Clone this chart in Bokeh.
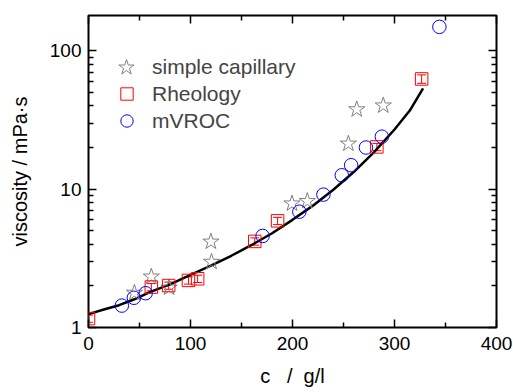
from bokeh.plotting import figure
from bokeh.models import (LinearAxis, LogAxis, Range1d, FixedTicker, Legend, LegendItem,
                          Whisker, ColumnDataSource, NumeralTickFormatter)
from bokeh.embed import file_html
from bokeh.resources import INLINE

# --- data ---
cap_c = [45, 61.6, 79, 120, 120.6, 199.5, 214.5, 254.8, 263, 289]
cap_eta = [1.78, 2.33, 1.94, 4.17, 2.98, 7.87, 8.2, 21.3, 37.7, 40.2]

rheo_c = [0, 61.6, 78.6, 98, 107, 163, 185.4, 282.7, 326.6]
rheo_eta = [1.16, 1.96, 2.01, 2.19, 2.25, 4.19, 5.9, 20.2, 62.6]
rheo_relerr = [0.06, 0.06, 0.06, 0.06, 0.06, 0.06, 0.06, 0.06, 0.07]

vroc_c = [32.7, 44.5, 56, 170.7, 206.7, 230.3, 248.3, 257.5, 272, 287.6, 344]
vroc_eta = [1.44, 1.64, 1.77, 4.59, 6.87, 9.13, 12.6, 14.9, 20.0, 23.96, 149]

fit_c = [0, 15, 30, 45, 60, 80, 100, 120, 140, 160, 180, 200, 220, 240, 260, 280, 300, 315, 328]
fit_eta = [1.25, 1.35, 1.45, 1.6, 1.8, 2.05, 2.4, 2.8, 3.3, 3.95, 4.8, 6.0, 7.6, 9.9, 13.3, 18.5, 27, 37, 53.5]

x_ticks = [0, 100, 200, 300, 400]
x_minor = [50, 150, 250, 350]
y_ticks = [1, 10, 100]
y_minor = [2, 3, 4, 5, 6, 7, 8, 9, 20, 30, 40, 50, 60, 70, 80, 90, 200]

FONT = "Liberation Sans"

p = figure(width=513, height=392, output_backend="svg", toolbar_location=None,
           y_axis_type="log", x_range=Range1d(0, 400), y_range=Range1d(1, 180),
           min_border_left=88, min_border_right=17, min_border_top=15, min_border_bottom=65)
p.grid.visible = False
p.outline_line_color = "black"
p.outline_line_width = 2
p.background_fill_color = "white"

# fit curve
p.line(fit_c, fit_eta, line_color="black", line_width=2.5)

# rheology error bars
rsrc = ColumnDataSource(dict(x=rheo_c, y=rheo_eta,
                             lo=[v * (1 - e) for v, e in zip(rheo_eta, rheo_relerr)],
                             hi=[v * (1 + e) for v, e in zip(rheo_eta, rheo_relerr)]))
w = Whisker(source=rsrc, base="x", lower="lo", upper="hi", dimension="height",
            line_color="red", line_width=1)
w.upper_head.line_color = "red"
w.lower_head.line_color = "red"
w.upper_head.size = 9
w.lower_head.size = 9
p.add_layout(w)

r_cap = p.scatter(cap_c, cap_eta, marker="star", size=17, fill_color=None,
                  line_color="#808080", line_width=1)
r_rheo = p.scatter("x", "y", source=rsrc, marker="square", size=12.5, fill_color=None,
                   line_color="red", line_width=1)
r_vroc = p.scatter(vroc_c, vroc_eta, marker="circle", size=13.5, fill_color=None,
                   line_color="blue", line_width=1)

def make_legend(label, rend, g, loc, standoff):
    lg = Legend(items=[LegendItem(label=label, renderers=[rend])],
                location=loc, margin=0, padding=0, spacing=0,
                glyph_width=g, glyph_height=g, label_standoff=standoff,
                label_text_font=FONT, label_text_font_size="21px",
                border_line_color=None, background_fill_alpha=0)
    p.add_layout(lg, "center")

make_legend("simple capillary", r_cap, 40, (18, 240), 6)
make_legend("Rheology", r_rheo, 31, (23, 218), 10)
make_legend("mVROC", r_vroc, 31, (23, 191), 10)

def style(ax, labels=True):
    ax.axis_line_color = None
    ax.major_tick_in = 8
    ax.major_tick_out = 0
    ax.minor_tick_in = 5
    ax.minor_tick_out = 0
    ax.major_tick_line_width = 1.5
    ax.minor_tick_line_width = 1.5
    ax.major_tick_line_color = "black"
    ax.minor_tick_line_color = "black"
    ax.major_label_text_font = FONT
    ax.major_label_text_font_size = "19px" if labels else "0px"
    ax.major_label_text_color = "black" if labels else None
    ax.axis_label_text_font = FONT
    ax.axis_label_text_font_size = "20px"
    ax.axis_label_text_font_style = "normal"
    ax.axis_label_text_color = "black"
    ax.formatter = NumeralTickFormatter(format="0")

xa = p.xaxis[0]
style(xa)
xa.ticker = FixedTicker(ticks=x_ticks, minor_ticks=x_minor)
xa.axis_label = "c\u00a0\u00a0\u00a0/\u00a0\u00a0g/l"
xa.major_label_standoff = 9
xa.axis_label_standoff = 12

ya = p.yaxis[0]
style(ya)
ya.ticker = FixedTicker(ticks=y_ticks, minor_ticks=y_minor)
ya.axis_label = "viscosity / mPa·s"
ya.major_label_standoff = 7
ya.axis_label_standoff = 16

top = LinearAxis(ticker=FixedTicker(ticks=x_ticks, minor_ticks=x_minor))
style(top, labels=False)
p.add_layout(top, "above")

right = LogAxis(ticker=FixedTicker(ticks=y_ticks, minor_ticks=y_minor))
style(right, labels=False)
p.add_layout(right, "right")

open("out.html", "w").write(file_html(p, INLINE))
